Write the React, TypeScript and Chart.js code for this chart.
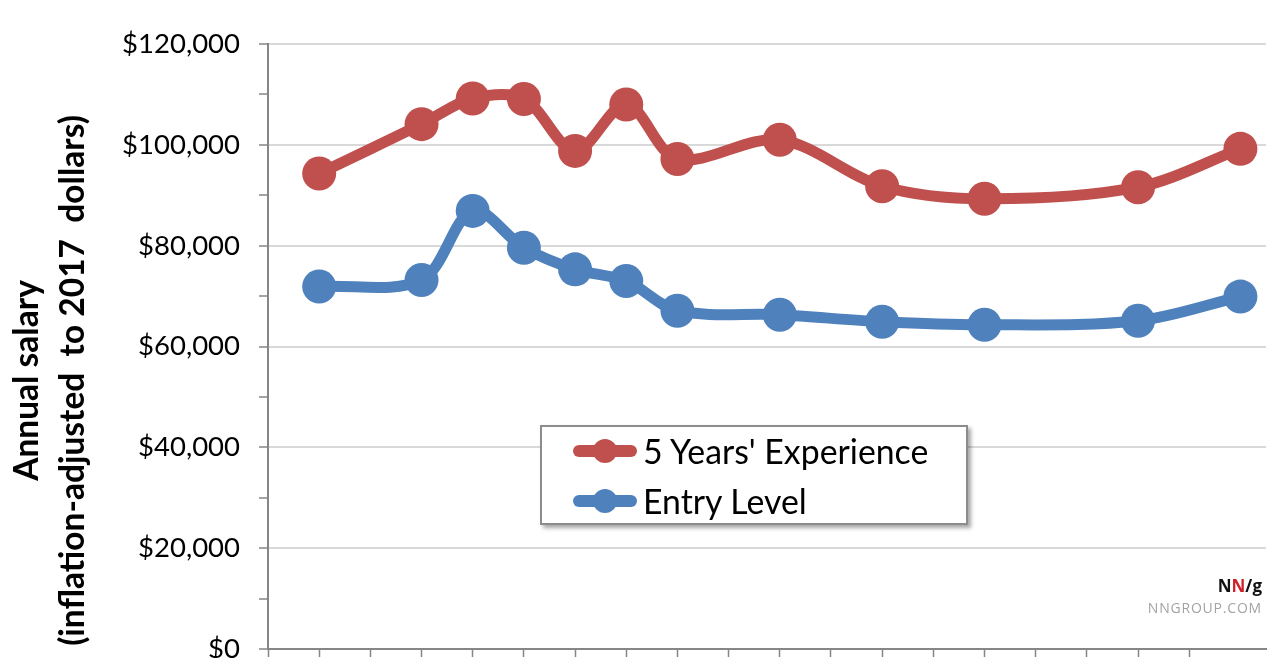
import React, { useEffect, useRef } from 'react';
import { Chart, registerables } from 'chart.js';

Chart.register(...registerables);

// ---- data ----
const slots = [1, 3, 4, 5, 6, 7, 8, 10, 12, 14, 17, 19];
const fiveYears = [94300, 104100, 109200, 109100, 98800, 108000, 97200, 101000, 91800, 89300, 91600, 99200];
const entryLevel = [71900, 73200, 86900, 79600, 75300, 73000, 67100, 66300, 64900, 64300, 65100, 69900];
const seriesNames = ["5 Years' Experience", 'Entry Level'];
const seriesColors = ['#C0504D', '#4F81BD'];
const yTitleLines = ['Annual salary', '(inflation-adjusted  to 2017  dollars)'];
const yMin = 0;
const yMax = 120000;
const yMajorStep = 20000;
const yMinorStep = 10000;
const xMin = 0;
const xMax = 19.5;

const FONT = 'Lato, "Open Sans", sans-serif';

const yTitlePlugin = {
  id: 'yTitle',
  afterDraw(chart: any) {
    const ctx = chart.ctx;
    const area = chart.chartArea;
    ctx.save();
    ctx.fillStyle = '#000';
    ctx.font = `bold 33.5px ${FONT}`;
    ctx.textAlign = 'center';
    ctx.textBaseline = 'alphabetic';
    const cy = (area.top + area.bottom) / 2 + 34;
    ctx.translate(38, cy);
    ctx.rotate(-Math.PI / 2);
    ctx.fillText(yTitleLines[0], 0, 0);
    ctx.fillText(yTitleLines[1], 0, 46);
    ctx.restore();
  },
};

export default function App() {
  const ref = useRef<HTMLCanvasElement>(null);

  useEffect(() => {
    if (!ref.current) return;
    const chart = new Chart(ref.current, {
      type: 'line',
      data: {
        datasets: [fiveYears, entryLevel].map((vals, i) => ({
          label: seriesNames[i],
          data: vals.map((v, j) => ({ x: slots[j], y: v })),
          borderColor: seriesColors[i],
          backgroundColor: seriesColors[i],
          pointBackgroundColor: seriesColors[i],
          pointBorderWidth: 0,
          pointRadius: 17,
          borderWidth: 11,
          tension: 0.33,
          borderCapStyle: 'round',
          borderJoinStyle: 'round',
          clip: false,
        })),
      },
      options: {
        animation: false,
        responsive: false,
        layout: { padding: { top: 44, right: 22, bottom: 0, left: 0 } },
        plugins: { legend: { display: false }, tooltip: { enabled: false } },
        scales: {
          x: {
            type: 'linear',
            min: xMin,
            max: xMax,
            ticks: { display: false, stepSize: 1 },
            afterBuildTicks: (scale: any) => {
              scale.ticks = scale.ticks.filter((t: any) => Number.isInteger(t.value));
            },
            afterFit: (scale: any) => {
              scale.height = 9;
              scale.paddingLeft = 0;
              scale.paddingRight = 0;
            },
            grid: {
              drawOnChartArea: false,
              drawTicks: true,
              tickLength: 8,
              tickColor: '#868686',
              tickWidth: 1.5,
            },
            border: { color: '#868686', width: 2 },
          },
          y: {
            min: yMin,
            max: yMax,
            afterFit: (scale: any) => {
              scale.width = 268;
              scale.paddingTop = 0;
              scale.paddingBottom = 0;
            },
            ticks: {
              stepSize: yMinorStep,
              padding: 19,
              color: '#000',
              font: { family: FONT, size: 27.5 },
              callback: (v: any) =>
                Number(v) % yMajorStep === 0 ? '$' + Number(v).toLocaleString('en-US') : '',
            },
            grid: {
              color: (c: any) => (c.tick && c.tick.value % yMajorStep === 0 ? '#d9d9d9' : 'rgba(0,0,0,0)'),
              lineWidth: 2,
              tickColor: '#868686',
              tickWidth: 1.5,
              tickLength: 9,
            },
            border: { color: '#868686', width: 2 },
          },
        },
      },
      plugins: [yTitlePlugin],
    } as any);
    return () => chart.destroy();
  }, []);

  return (
    <div style={{ position: 'absolute', left: 0, top: 0, width: 1288, height: 658, background: '#fff', overflow: 'hidden' }}>
      <canvas ref={ref} width={1288} height={666} style={{ display: 'block' }} />
      <div
        style={{
          position: 'absolute',
          left: 540,
          top: 425,
          width: 424,
          height: 96,
          border: '2px solid #8c8c8c',
          background: '#fff',
          boxShadow: '3px 3px 4px rgba(0,0,0,0.35)',
        }}
      >
        {seriesNames.map((name, i) => (
          <div key={name} style={{ position: 'absolute', left: 0, top: 4 + i * 50, height: 40, width: '100%' }}>
            <div
              style={{
                position: 'absolute',
                left: 31,
                top: 14,
                width: 64,
                height: 12,
                borderRadius: 6,
                background: seriesColors[i],
              }}
            />
            <div
              style={{
                position: 'absolute',
                left: 51,
                top: 8,
                width: 24,
                height: 24,
                borderRadius: 12,
                background: seriesColors[i],
              }}
            />
            <div
              style={{
                position: 'absolute',
                left: 101,
                top: 0,
                height: 40,
                lineHeight: '40px',
                fontFamily: FONT,
                fontSize: 33.8,
                color: '#000',
                whiteSpace: 'pre',
              }}
            >
              {name}
            </div>
          </div>
        ))}
      </div>
      <div
        style={{
          position: 'absolute',
          right: 1288 - 1262,
          top: 576,
          fontFamily: '"Liberation Sans Narrow", "Open Sans", sans-serif',
          fontWeight: 'bold',
          fontSize: 17,
          color: '#111',
          lineHeight: '20px',
        }}
      >
        N<span style={{ color: '#d0202a' }}>N</span>/g
      </div>
      <div
        style={{
          position: 'absolute',
          right: 1288 - 1262,
          top: 600,
          fontFamily: '"Open Sans", sans-serif',
          fontSize: 14,
          color: '#a3a3a3',
          lineHeight: '16px',
          letterSpacing: 0.8,
        }}
      >
        NNGROUP.COM
      </div>
    </div>
  );
}
